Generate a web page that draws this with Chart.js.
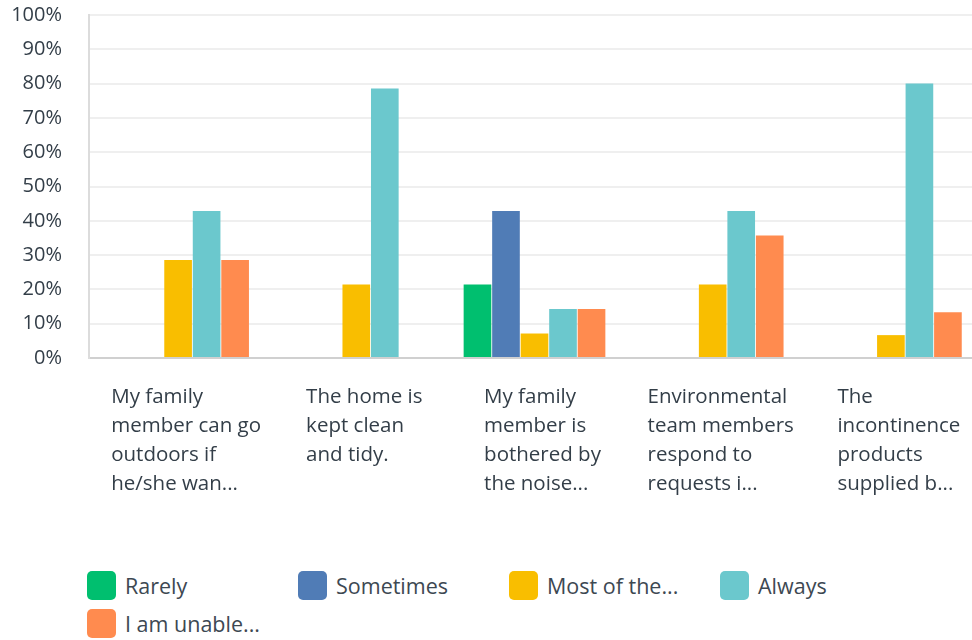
<!DOCTYPE html>
<html>
<head>
<meta charset="utf-8">
<script src="https://cdn.jsdelivr.net/npm/chart.js@4.4.1/dist/chart.umd.min.js"></script>
<style>
  html, body { margin: 0; padding: 0; background: #fff; overflow: hidden; }
  #wrap { position: relative; width: 990px; height: 640px; }
  #box { position: absolute; left: 0; top: -24px; width: 990px; height: 584px; }
  #legend { position: absolute; left: 87px; top: 571px; width: 880px; display: grid;
    grid-template-columns: repeat(4, 211px); row-gap: 9px;
    font-family: "Open Sans", sans-serif; font-size: 21.5px; color: #3d4852; }
  .item { display: flex; align-items: center; height: 29px; }
  .sw { width: 29px; height: 29px; border-radius: 5px; margin-right: 9px; flex: none; }
</style>
</head>
<body>
<div id="wrap">
  <div id="box"><canvas id="c"></canvas></div>
  <div id="legend"></div>
</div>
<script>
// categories (x axis text, one array per line)
const categories = [
  ['My family', 'member can go', 'outdoors if', 'he/she wan...'],
  ['The home is', 'kept clean', 'and tidy.'],
  ['My family', 'member is', 'bothered by', 'the noise...'],
  ['Environmental', 'team members', 'respond to', 'requests i...'],
  ['The', 'incontinence', 'products', 'supplied b...']
];

// series names and colours
const seriesNames = ['Rarely', 'Sometimes', 'Most of the...', 'Always', 'I am unable...'];
const seriesColors = ['#00BF6F', '#507CB6', '#F9BE00', '#6BC8CD', '#FF8B4F'];

// percent values per series
const rarely    = [0, 0, 21.43, 0, 0];
const sometimes = [0, 0, 42.86, 0, 0];
const mostOf    = [28.57, 21.43, 7.14, 21.43, 6.67];
const always    = [42.86, 78.57, 14.29, 42.86, 80.00];
const unable    = [28.57, 0, 14.29, 35.71, 13.33];
const seriesValues = [rarely, sometimes, mostOf, always, unable];

const yTicks = [0, 10, 20, 30, 40, 50, 60, 70, 80, 90, 100];

const textColor = '#333e48';
const fontFam = '"Open Sans", sans-serif';

// draws the x labels left-aligned inside a block centred on the tick
const xLabelPlugin = {
  id: 'xLabels',
  afterDraw(chart) {
    const ctx = chart.ctx;
    const xs = chart.scales.x;
    const bottom = chart.chartArea.bottom;
    ctx.save();
    ctx.font = '20.5px ' + fontFam;
    ctx.fillStyle = textColor;
    ctx.textAlign = 'left';
    ctx.textBaseline = 'middle';
    categories.forEach((lines, i) => {
      const cx = xs.getPixelForTick(i);
      const w = Math.max(...lines.map(l => ctx.measureText(l).width));
      const left = cx - w / 2 + 8;
      lines.forEach((l, j) => ctx.fillText(l, left, bottom + 39 + j * 29));
    });
    ctx.restore();
  }
};

new Chart(document.getElementById('c'), {
  type: 'bar',
  data: {
    labels: categories.map(c => c.join(' ')),
    datasets: seriesNames.map((n, i) => ({
      label: n,
      data: seriesValues[i],
      backgroundColor: seriesColors[i],
      borderWidth: 0,
      categoryPercentage: 0.8,
      barPercentage: 0.97
    }))
  },
  options: {
    responsive: true,
    maintainAspectRatio: false,
    animation: false,
    layout: { padding: { top: 0, right: 10, left: 0, bottom: 0 } },
    plugins: { legend: { display: false }, tooltip: { enabled: false } },
    scales: {
      x: {
        grid: { display: false },
        border: { color: '#d0d0d0', width: 2 },
        ticks: { display: false },
        afterFit(scale) { scale.height = 202; }
      },
      y: {
        min: 0,
        max: 100,
        afterBuildTicks(scale) { scale.ticks = yTicks.map(v => ({ value: v })); },
        afterFit(scale) { scale.width = 89; },
        grid: { color: '#efefef', lineWidth: 2, drawTicks: false },
        border: { color: '#dcdcdc', width: 2 },
        ticks: {
          padding: 27,
          color: textColor,
          font: { family: fontFam, size: 20 },
          callback: v => v + '%'
        }
      }
    }
  },
  plugins: [xLabelPlugin]
});

// html legend from the series arrays
const legend = document.getElementById('legend');
seriesNames.forEach((n, i) => {
  const it = document.createElement('div');
  it.className = 'item';
  it.innerHTML = '<span class="sw" style="background:' + seriesColors[i] + '"></span><span>' + n + '</span>';
  legend.appendChild(it);
});
</script>
</body>
</html>
